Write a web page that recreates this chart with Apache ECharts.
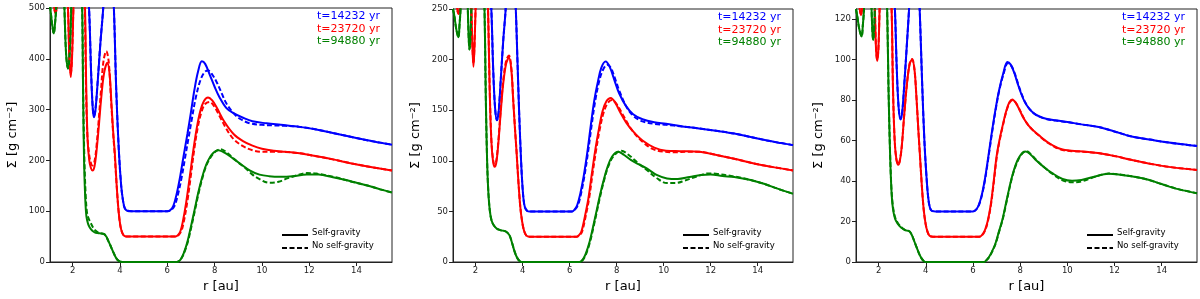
<!DOCTYPE html>
<html><head><meta charset="utf-8">
<script src="https://cdn.jsdelivr.net/npm/echarts@6/dist/echarts.min.js"></script>
<style>html,body{margin:0;padding:0;background:#fff}#c{width:1200px;height:299px}</style>
</head><body><div id="c"></div>
<script>
// ---------- tick labels ----------
const xTicks = [2, 4, 6, 8, 10, 12, 14];
const p1YTicks = [0, 100, 200, 300, 400, 500];
const p2YTicks = [0, 50, 100, 150, 200, 250];
const p3YTicks = [0, 20, 40, 60, 80, 100, 120];
const yMax = [500, 250, 125];
const xRange = [1.04, 15.5];
const timeLabels = ['t=14232 yr', 't=23720 yr', 't=94880 yr'];
const styleLabels = ['Self-gravity', 'No self-gravity'];

// ---------- panel 1 ----------
const p1BlueSG = [[1.04,600],[2.55,600],[2.69,500],[2.78,370],[2.85,300],[2.9,285],[2.96,298],[3.05,350],[3.17,430],[3.29,500],[3.4,600],[3.62,600],[3.74,500],[3.84,340],[3.95,220],[4.05,150],[4.13,120],[4.2,106],[4.3,101],[4.5,100],[6.0,100],[6.12,102],[6.25,110],[6.4,135],[6.55,170],[6.7,212],[6.85,252],[7.0,295],[7.15,340],[7.3,375],[7.46,395],[7.6,390],[7.8,368],[8.0,345],[8.2,325],[8.5,303],[8.8,293],[9.2,284],[9.6,277],[10.2,273],[10.8,270],[11.6,266],[12.3,261],[13.0,254],[13.7,247],[14.4,240],[15.0,235],[15.5,231]];
const p1BlueNoSG = [[1.04,600],[2.55,600],[2.69,500],[2.78,372],[2.85,303],[2.9,288],[2.96,300],[3.05,352],[3.17,432],[3.29,500],[3.4,600],[3.62,600],[3.74,500],[3.84,340],[3.95,220],[4.05,150],[4.13,120],[4.2,106],[4.3,101],[4.5,100],[6.0,100],[6.15,102],[6.3,110],[6.45,133],[6.6,165],[6.75,205],[6.9,245],[7.05,285],[7.2,323],[7.4,358],[7.58,374],[7.73,377],[7.9,369],[8.1,353],[8.3,332],[8.5,312],[8.8,293],[9.1,281],[9.5,273],[10.0,270],[10.5,269],[11.0,268],[11.6,266],[12.3,261],[13.0,254],[13.7,247],[14.4,240],[15.0,235],[15.5,231]];
const p1RedSG = [[1.04,600],[1.15,560],[1.22,500],[1.27,490],[1.32,500],[1.4,600],[1.7,600],[1.8,500],[1.86,400],[1.92,364],[1.97,400],[2.03,500],[2.1,600],[2.42,600],[2.52,500],[2.57,350],[2.63,240],[2.7,200],[2.77,185],[2.84,180],[2.92,188],[3.0,215],[3.1,265],[3.2,320],[3.32,370],[3.46,392],[3.56,370],[3.64,310],[3.72,250],[3.78,215],[3.86,150],[3.94,100],[4.02,70],[4.1,57],[4.2,51],[4.35,50],[6.35,50],[6.45,53],[6.55,60],[6.65,78],[6.8,118],[6.95,168],[7.1,220],[7.25,265],[7.4,298],[7.55,317],[7.72,324],[7.9,318],[8.1,303],[8.4,277],[8.8,252],[9.2,238],[9.6,229],[10.0,223],[10.5,219],[11.0,217],[11.6,214],[12.2,209],[13.0,202],[13.8,194],[14.6,187],[15.5,180]];
const p1RedNoSG = [[1.04,600],[1.15,560],[1.22,500],[1.27,492],[1.32,500],[1.4,600],[1.7,600],[1.8,500],[1.86,405],[1.92,372],[1.97,405],[2.03,500],[2.1,600],[2.42,600],[2.51,500],[2.56,350],[2.62,250],[2.7,210],[2.77,195],[2.84,190],[2.92,198],[3.0,225],[3.1,280],[3.2,340],[3.3,395],[3.42,415],[3.52,395],[3.62,320],[3.7,260],[3.77,215],[3.86,150],[3.94,100],[4.02,70],[4.1,57],[4.2,51],[4.35,50],[6.35,50],[6.48,53],[6.6,62],[6.7,80],[6.85,120],[7.0,172],[7.15,225],[7.3,268],[7.45,296],[7.6,311],[7.8,315],[8.0,305],[8.2,288],[8.5,262],[8.8,242],[9.2,228],[9.6,220],[10.0,217],[10.5,217],[11.0,216.5],[11.6,214],[12.2,209],[13.0,202],[13.8,194],[14.6,187],[15.5,180]];
const p1GreenSG = [[1.04,505],[1.1,480],[1.16,458],[1.2,450],[1.25,468],[1.3,500],[1.36,600],[1.58,600],[1.65,500],[1.72,410],[1.8,381],[1.87,410],[1.94,500],[2.0,600],[2.32,600],[2.4,500],[2.44,330],[2.48,200],[2.53,125],[2.58,90],[2.65,75],[2.72,68],[2.82,62],[2.93,58.5],[3.05,57],[3.2,56],[3.33,55],[3.42,50],[3.5,42],[3.6,32],[3.7,21],[3.8,11],[3.9,4],[4.0,1],[4.1,0],[6.4,0],[6.5,2],[6.6,8],[6.7,18],[6.85,40],[7.0,70],[7.15,102],[7.3,135],[7.45,163],[7.6,186],[7.75,202],[7.95,215],[8.15,220],[8.35,217],[8.6,210],[8.8,203],[9.1,193],[9.5,180],[9.9,172],[10.3,169],[10.8,168],[11.3,169],[11.9,172],[12.4,172],[13.0,167],[13.5,162],[14.0,156],[14.5,150],[15.0,143],[15.5,137]];
const p1GreenNoSG = [[1.04,505],[1.1,480],[1.16,458],[1.2,450],[1.25,468],[1.3,500],[1.36,600],[1.58,600],[1.65,500],[1.72,410],[1.8,381],[1.87,410],[1.94,500],[2.0,600],[2.32,600],[2.4,500],[2.44,340],[2.49,210],[2.55,130],[2.61,95],[2.68,85],[2.76,77],[2.86,68],[2.96,62],[3.08,58],[3.2,56.5],[3.33,55],[3.42,50],[3.5,42],[3.6,32],[3.7,21],[3.8,11],[3.9,4],[4.0,1],[4.1,0],[6.4,0],[6.5,2],[6.62,9],[6.72,19],[6.87,40],[7.02,70],[7.17,102],[7.32,135],[7.47,163],[7.62,186],[7.8,204],[8.0,216],[8.25,222],[8.45,218],[8.7,208],[9.0,196],[9.3,185],[9.6,172],[9.9,163],[10.3,156],[10.7,158],[11.1,165],[11.5,171],[11.9,175],[12.3,174],[13.0,168],[13.8,158],[14.5,150],[15.0,143],[15.5,137]];

// ---------- panel 2 ----------
const p2BlueSG = [[1.04,300],[2.55,300],[2.67,250],[2.75,190],[2.83,152],[2.91,140],[2.98,148],[3.07,180],[3.18,220],[3.28,250],[3.38,300],[3.6,300],[3.71,250],[3.78,200],[3.85,150],[3.92,108],[3.98,80],[4.04,62],[4.1,54],[4.2,50.5],[4.3,50],[6.1,50],[6.2,51.5],[6.32,56],[6.45,67],[6.6,85],[6.75,108],[6.9,135],[7.05,160],[7.2,178],[7.35,192],[7.53,198],[7.7,193],[7.9,180],[8.1,167],[8.4,154],[8.7,146],[9.1,141],[9.6,138],[10.1,136.5],[10.8,134],[11.5,132],[12.3,129.5],[13.0,127],[13.7,123.5],[14.4,120],[15.0,117.5],[15.5,115.5]];
const p2BlueNoSG = [[1.04,300],[2.55,300],[2.67,250],[2.75,190],[2.83,152],[2.91,140],[2.98,148],[3.07,180],[3.18,220],[3.28,250],[3.38,300],[3.6,300],[3.71,250],[3.78,200],[3.85,150],[3.92,108],[3.98,80],[4.04,62],[4.1,54],[4.2,50.5],[4.3,50],[6.1,50],[6.22,51.5],[6.35,56],[6.48,67],[6.63,85],[6.78,108],[6.93,134],[7.08,158],[7.23,176],[7.4,189],[7.6,195],[7.75,192],[7.95,180],[8.15,167],[8.45,152],[8.75,143.5],[9.1,139],[9.6,136.5],[10.1,135.5],[10.8,134],[11.5,132],[12.3,129.5],[13.0,127],[13.7,123.5],[14.4,120],[15.0,117.5],[15.5,115.5]];
const p2RedSG = [[1.04,300],[1.15,270],[1.22,250],[1.27,245],[1.32,250],[1.4,300],[1.75,300],[1.82,250],[1.87,210],[1.91,193],[1.95,210],[2.0,250],[2.08,300],[2.45,300],[2.53,250],[2.6,170],[2.67,120],[2.74,100],[2.81,94],[2.88,98],[2.96,115],[3.06,145],[3.17,175],[3.3,196],[3.42,202],[3.52,190],[3.6,160],[3.68,130],[3.74,110],[3.82,80],[3.9,55],[3.98,40],[4.06,31],[4.16,26],[4.3,25],[6.3,25],[6.4,26.5],[6.5,30],[6.65,45],[6.8,63],[6.95,88],[7.1,112],[7.25,132],[7.4,149],[7.57,159],[7.75,162],[7.95,157],[8.15,148],[8.4,138],[8.7,129],[9.1,120],[9.6,113],[10.1,110],[10.7,109.5],[11.5,109],[12.2,106],[13.0,102],[13.8,97.5],[14.6,94],[15.5,90.5]];
const p2RedNoSG = [[1.04,300],[1.15,270],[1.22,250],[1.27,246],[1.32,250],[1.4,300],[1.75,300],[1.82,250],[1.87,212],[1.91,196],[1.95,212],[2.0,250],[2.08,300],[2.45,300],[2.53,250],[2.6,172],[2.67,122],[2.74,102],[2.81,96],[2.88,100],[2.96,117],[3.06,148],[3.17,178],[3.3,199],[3.42,204],[3.52,192],[3.6,161],[3.68,131],[3.74,110],[3.82,80],[3.9,55],[3.98,40],[4.06,31],[4.16,26],[4.3,25],[6.3,25],[6.42,26.5],[6.53,30],[6.68,45],[6.83,63],[6.98,88],[7.13,111],[7.28,131],[7.45,148],[7.62,157],[7.8,160],[8.0,156],[8.3,144],[8.6,132],[9.0,121],[9.5,112],[10.0,109],[10.5,108.5],[11.0,109],[11.5,109],[12.2,106],[13.0,102],[13.8,97.5],[14.6,94],[15.5,90.5]];
const p2GreenSG = [[1.04,250],[1.1,243],[1.18,230],[1.27,222],[1.32,235],[1.36,250],[1.42,300],[1.62,300],[1.67,250],[1.71,220],[1.74,210],[1.78,220],[1.82,250],[1.88,300],[2.3,300],[2.38,250],[2.43,170],[2.48,110],[2.53,75],[2.6,52],[2.68,41],[2.78,36],[2.9,33],[3.05,31.5],[3.15,31],[3.25,30.5],[3.35,29],[3.45,26],[3.55,19],[3.65,11],[3.75,5],[3.85,1.5],[3.95,0],[6.42,0],[6.5,1],[6.6,4],[6.7,9],[6.85,20],[7.0,35],[7.15,51],[7.3,67],[7.45,81],[7.6,93],[7.8,104],[8.07,109],[8.3,106],[8.6,101],[8.9,97],[9.28,92.5],[9.7,86],[10.14,82.6],[10.6,82],[11.1,84],[11.6,86],[12.0,86.5],[12.5,85],[13.0,84],[13.7,81],[14.3,77],[14.9,72],[15.5,67.5]];
const p2GreenNoSG = [[1.04,250],[1.1,243],[1.18,230],[1.27,222],[1.32,235],[1.36,250],[1.42,300],[1.62,300],[1.67,250],[1.71,220],[1.74,210],[1.78,220],[1.82,250],[1.88,300],[2.3,300],[2.38,250],[2.43,170],[2.48,110],[2.53,75],[2.6,52],[2.68,41],[2.78,36],[2.9,33],[3.05,31.5],[3.15,31],[3.25,30.5],[3.35,29],[3.45,26],[3.55,19],[3.65,11],[3.75,5],[3.85,1.5],[3.95,0],[6.42,0],[6.52,1],[6.62,4],[6.72,9],[6.87,20],[7.02,35],[7.17,51],[7.32,67],[7.47,81],[7.62,93],[7.85,104],[8.2,110],[8.5,106],[8.9,98],[9.28,91],[9.7,83],[10.14,78],[10.5,78],[10.9,80.5],[11.4,84.5],[11.9,87.5],[12.3,87],[13.0,84.5],[13.7,81],[14.3,77],[14.9,72],[15.5,67.5]];

// ---------- panel 3 ----------
const p3BlueSG = [[1.04,150],[2.58,150],[2.69,125],[2.77,95],[2.85,76],[2.93,70.4],[3.0,74],[3.1,90],[3.2,108],[3.29,125],[3.4,150],[3.64,150],[3.74,125],[3.84,90],[3.94,60],[4.03,42],[4.1,32],[4.17,27],[4.25,25.3],[4.4,25],[6.0,25],[6.1,25.6],[6.2,27],[6.3,30],[6.4,34.5],[6.5,40.5],[6.6,48],[6.7,56],[6.8,64],[6.95,75],[7.1,84.5],[7.28,93],[7.46,98.8],[7.6,97.5],[7.75,93.5],[7.9,88],[8.05,83],[8.2,79],[8.4,75.5],[8.6,73.3],[8.8,72],[9.1,70.8],[9.5,70],[9.93,69.3],[10.6,68],[11.33,66.7],[12.0,64.5],[12.73,62],[13.5,60.5],[14.3,59],[15.0,58],[15.5,57.3]];
const p3BlueNoSG = [[1.04,150],[2.58,150],[2.69,125],[2.77,95],[2.85,76],[2.93,70.6],[3.0,74],[3.1,90],[3.2,108],[3.29,125],[3.4,150],[3.64,150],[3.74,125],[3.84,90],[3.94,60],[4.03,42],[4.1,32],[4.17,27],[4.25,25.3],[4.4,25],[6.0,25],[6.11,25.6],[6.21,27],[6.31,30],[6.41,34.5],[6.51,40.5],[6.61,48],[6.71,56],[6.81,64],[6.96,75],[7.11,84.5],[7.3,93],[7.48,98.2],[7.62,97],[7.77,93.2],[7.92,87.8],[8.07,82.8],[8.22,78.8],[8.42,75.3],[8.62,73.1],[8.82,71.8],[9.1,70.6],[9.5,69.9],[9.93,69.2],[10.6,68],[11.33,66.7],[12.0,64.5],[12.73,62],[13.5,60.5],[14.3,59],[15.0,58],[15.5,57.3]];
const p3RedSG = [[1.04,150],[1.15,135],[1.2,125],[1.25,122],[1.3,125],[1.38,150],[1.78,150],[1.84,125],[1.89,105],[1.94,99.3],[1.99,105],[2.04,125],[2.1,150],[2.45,150],[2.55,125],[2.61,85],[2.68,60],[2.75,51],[2.83,48],[2.9,50],[2.98,57],[3.08,72],[3.2,88],[3.32,98],[3.42,100],[3.52,95],[3.6,82],[3.68,66],[3.75,53],[3.83,38],[3.91,26],[3.99,19],[4.07,15],[4.16,13],[4.3,12.5],[6.27,12.5],[6.38,13.3],[6.5,15.5],[6.62,20],[6.75,28],[6.88,40],[7.0,52],[7.12,60],[7.27,68],[7.42,75],[7.55,79],[7.67,80.3],[7.82,78.5],[7.98,75],[8.15,71],[8.35,67.5],[8.6,64.6],[8.8,62.6],[9.0,60.6],[9.2,58.9],[9.4,57.5],[9.6,56.3],[9.9,55.3],[10.3,54.9],[10.8,54.5],[11.3,53.8],[12.03,52.3],[12.7,50.5],[13.44,48.7],[14.3,47],[15.5,45.5]];
const p3RedNoSG = [[1.04,150],[1.15,135],[1.2,125],[1.25,122.5],[1.3,125],[1.38,150],[1.78,150],[1.84,125],[1.89,105.5],[1.94,100],[1.99,105.5],[2.04,125],[2.1,150],[2.45,150],[2.55,125],[2.61,85],[2.68,60],[2.75,51],[2.83,48.3],[2.9,50.3],[2.98,57],[3.08,72],[3.2,88],[3.32,98.3],[3.42,100.3],[3.52,95],[3.6,82],[3.68,66],[3.75,53],[3.83,38],[3.91,26],[3.99,19],[4.07,15],[4.16,13],[4.3,12.5],[6.27,12.5],[6.39,13.3],[6.51,15.5],[6.63,20],[6.76,28],[6.89,40],[7.01,52],[7.13,60],[7.28,68],[7.43,75],[7.57,79],[7.69,80],[7.84,78.3],[8.0,74.8],[8.17,70.8],[8.37,67.3],[8.6,64.4],[8.8,62.4],[9.0,60.4],[9.2,58.7],[9.4,57.3],[9.6,56.1],[9.9,55.1],[10.3,54.7],[10.8,54.4],[11.3,53.8],[12.03,52.3],[12.7,50.5],[13.44,48.7],[14.3,47],[15.5,45.5]];
const p3GreenSG = [[1.04,125],[1.1,121],[1.18,115],[1.28,111.4],[1.33,117],[1.38,125],[1.45,150],[1.65,150],[1.7,125],[1.74,113],[1.77,109.7],[1.8,113],[1.84,125],[1.9,150],[2.28,150],[2.36,125],[2.42,85],[2.48,55.5],[2.54,36],[2.6,27],[2.69,21.6],[2.8,19],[2.95,17],[3.11,15.8],[3.22,15.5],[3.32,15],[3.42,13],[3.52,10],[3.62,7],[3.72,4],[3.82,1.8],[3.92,0.4],[4.0,0],[6.48,0],[6.56,0.8],[6.68,2.5],[6.8,5],[6.95,9],[7.1,15],[7.25,21],[7.4,29],[7.55,37],[7.7,44],[7.9,50.5],[8.1,54],[8.24,54.6],[8.45,53],[8.7,50],[9.0,47],[9.36,43.9],[9.8,41],[10.2,40.1],[10.6,40.5],[11.1,42],[11.75,43.6],[12.3,43],[12.9,42],[13.44,40.6],[14.0,38.5],[14.7,36],[15.5,34]];
const p3GreenNoSG = [[1.04,125],[1.1,121],[1.18,115],[1.28,111.4],[1.33,117],[1.38,125],[1.45,150],[1.65,150],[1.7,125],[1.74,113],[1.77,109.7],[1.8,113],[1.84,125],[1.9,150],[2.28,150],[2.36,125],[2.42,85],[2.48,56],[2.54,37],[2.6,28],[2.69,22.3],[2.8,19.5],[2.95,17.3],[3.11,15.9],[3.22,15.5],[3.32,15],[3.42,13],[3.52,10],[3.62,7],[3.72,4],[3.82,1.8],[3.92,0.4],[4.0,0],[6.48,0],[6.57,0.8],[6.69,2.5],[6.81,5],[6.96,9],[7.11,15],[7.26,21],[7.41,29],[7.56,37],[7.71,44],[7.92,50.5],[8.12,54],[8.27,54.8],[8.48,53],[8.72,50],[9.0,47],[9.36,43.6],[9.8,40.3],[10.2,39.4],[10.6,39.8],[11.1,41.8],[11.75,43.7],[12.3,43.1],[12.9,42],[13.44,40.6],[14.0,38.5],[14.7,36],[15.5,34]];

// ---------- layout ----------
const FONT = 'DejaVu Sans';
const colors = ['#0000ff', '#ff0000', '#008000'];
const grids = [
  {left: 50, top: 8, width: 342, height: 254},
  {left: 453, top: 9, width: 340, height: 253},
  {left: 856, top: 9, width: 341, height: 253}
];
const yTicks = [p1YTicks, p2YTicks, p3YTicks];
const panelData = [
  [[p1BlueSG, p1BlueNoSG], [p1RedSG, p1RedNoSG], [p1GreenSG, p1GreenNoSG]],
  [[p2BlueSG, p2BlueNoSG], [p2RedSG, p2RedNoSG], [p2GreenSG, p2GreenNoSG]],
  [[p3BlueSG, p3BlueNoSG], [p3RedSG, p3RedNoSG], [p3GreenSG, p3GreenNoSG]]
];
const DASH = [5, 2.5];

const xAxes = [], yAxes = [], series = [], graphic = [];
grids.forEach((g, i) => {
  xAxes.push({
    type: 'value', gridIndex: i, min: xRange[0], max: xRange[1],
    name: 'r [au]', nameLocation: 'middle', nameGap: 18,
    nameTextStyle: {fontFamily: FONT, fontSize: 13, color: '#000'},
    axisLine: {show: true, onZero: false, lineStyle: {color: '#222', width: 1}},
    axisTick: {show: true, inside: false, length: 4, lineStyle: {color: '#222'}, customValues: xTicks},
    axisLabel: {fontFamily: FONT, fontSize: 8.5, color: '#222', margin: 4, customValues: xTicks},
    splitLine: {show: false}
  });
  yAxes.push({
    type: 'value', gridIndex: i, min: 0, max: yMax[i],
    name: 'Σ [g cm\u207B\u00B2]', nameLocation: 'middle', nameGap: 31, nameRotate: 90,
    nameTextStyle: {fontFamily: FONT, fontSize: 13, color: '#000'},
    axisLine: {show: true, onZero: false, lineStyle: {color: '#222', width: 1}},
    axisTick: {show: true, inside: false, length: 4, lineStyle: {color: '#222'}, customValues: yTicks[i]},
    axisLabel: {fontFamily: FONT, fontSize: 8.5, color: '#222', margin: 5, customValues: yTicks[i]},
    splitLine: {show: false}
  });
  panelData[i].forEach((pair, c) => {
    pair.forEach((d, k) => {
      series.push({
        type: 'line', xAxisIndex: i, yAxisIndex: i, data: d,
        showSymbol: false, symbol: 'none', smooth: 0.35, clip: true,
        lineStyle: {color: colors[c], width: 2, type: k ? DASH : 'solid'},
        z: k ? 3 : 2, silent: true
      });
    });
  });
  const right = g.left + g.width;
  timeLabels.forEach((t, c) => {
    graphic.push({type: 'text', x: right - 75, y: g.top + 8 + c * 12.8,
      style: {text: t, fill: colors[c], fontFamily: FONT, fontSize: 11, align: 'left', verticalAlign: 'middle'}});
  });
  styleLabels.forEach((t, k) => {
    const y = 235 + k * 13;
    graphic.push({type: 'line', shape: {x1: right - 110, y1: y, x2: right - 84, y2: y},
      style: {stroke: '#000', lineWidth: 2, lineDash: k ? DASH : null}});
    graphic.push({type: 'text', x: right - 80, y: y - 2.5,
      style: {text: t, fill: '#000', fontFamily: FONT, fontSize: 8.5, align: 'left', verticalAlign: 'middle'}});
  });
});

const chart = echarts.init(document.getElementById('c'), null, {renderer: 'canvas'});
chart.setOption({
  animation: false,
  backgroundColor: '#fff',
  grid: grids.map(g => Object.assign({show: true, borderColor: '#222', borderWidth: 1, backgroundColor: 'transparent'}, g)),
  xAxis: xAxes, yAxis: yAxes, series: series, graphic: graphic
});
</script></body></html>
